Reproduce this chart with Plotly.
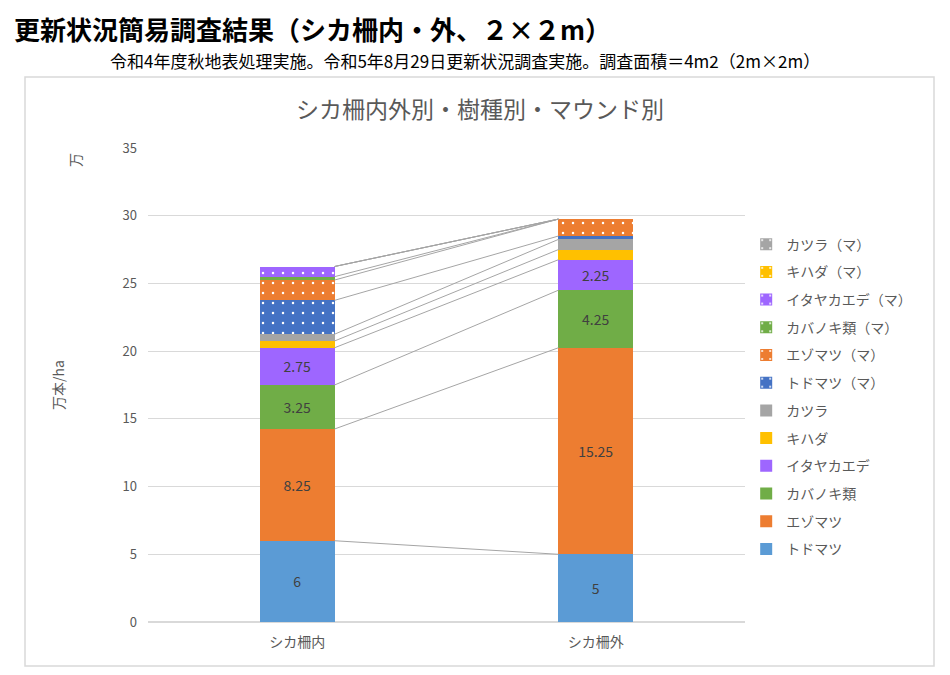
import plotly.graph_objects as go

categories = ["シカ柵内", "シカ柵外"]
series_names = ["トドマツ", "エゾマツ", "カバノキ類", "イタヤカエデ", "キハダ", "カツラ",
                "トドマツ（マ）", "エゾマツ（マ）", "カバノキ類（マ）", "イタヤカエデ（マ）", "キハダ（マ）", "カツラ（マ）"]
todomatsu = [6, 5]
ezomatsu = [8.25, 15.25]
kabanoki = [3.25, 4.25]
itaya = [2.75, 2.25]
kihada = [0.5, 0.75]
katsura = [0.5, 0.75]
todomatsu_m = [2.5, 0.25]
ezomatsu_m = [1.5, 1.25]
kabanoki_m = [0.25, 0]
itaya_m = [0.75, 0]
kihada_m = [0, 0]
katsura_m = [0, 0]
series_values = [todomatsu, ezomatsu, kabanoki, itaya, kihada, katsura,
                 todomatsu_m, ezomatsu_m, kabanoki_m, itaya_m, kihada_m, katsura_m]
colors = ["#5B9BD5", "#ED7D31", "#70AD47", "#9E66FF", "#FFC000", "#A5A5A5",
          "#4472C4", "#ED7D31", "#70AD47", "#9E66FF", "#FFC000", "#A5A5A5"]
patterned = [False] * 6 + [True] * 6
labeled = [True, True, True, True] + [False] * 8
y_ticks = [0, 5, 10, 15, 20, 25, 30, 35]

FONT = "Noto Sans CJK JP"
xpos = [0, 1]
bar_w = 0.25

fig = go.Figure()

# series lines (connect stacked tops)
cum = [0, 0]
for vals in series_values:
    cum = [cum[0] + vals[0], cum[1] + vals[1]]
    fig.add_trace(go.Scatter(x=[xpos[0] + bar_w / 2, xpos[1] - bar_w / 2], y=cum,
                             mode="lines", line=dict(color="#A5A5A5", width=1),
                             showlegend=False, hoverinfo="skip"))

n = len(series_names)
for i, (name, vals) in enumerate(zip(series_names, series_values)):
    marker = dict(color=colors[i], line=dict(width=0))
    if patterned[i]:
        marker["pattern"] = dict(shape=".", fgcolor="white", bgcolor=colors[i],
                                 size=10, solidity=0.05, fillmode="replace")
    fig.add_trace(go.Bar(
        x=xpos, y=vals, name=name, width=bar_w, marker=marker,
        text=[str(v) for v in vals] if labeled[i] else None,
        textposition="inside" if labeled[i] else "none",
        insidetextanchor="middle",
        textfont=dict(family=FONT, size=14, color="#404040"),
        legendgroup=name, legendrank=100 + (n - i),
    ))

fig.update_layout(
    width=942, height=667,
    barmode="stack",
    plot_bgcolor="white", paper_bgcolor="white",
    margin=dict(l=140, r=205, t=140, b=53),
    font=dict(family=FONT, color="#595959"),
    xaxis=dict(range=[-0.5, 1.5], tickvals=xpos, ticktext=categories,
               showgrid=False, zeroline=False, showline=False, ticks="",
               ticklabelstandoff=10,
               tickfont=dict(size=14, color="#595959", family=FONT)),
    yaxis=dict(range=[0, 35], tickvals=y_ticks, showgrid=True, gridcolor="#D9D9D9",
               gridwidth=1, zeroline=True, zerolinecolor="#D9D9D9", showline=False,
               ticks="", tickfont=dict(size=13, color="#595959", family=FONT),
               ticklabelstandoff=10,
               title=dict(text="万本/ha", font=dict(size=14, color="#595959", family=FONT),
                          standoff=54)),
    legend=dict(x=1.002, y=0.83, xanchor="left", yanchor="top",
                traceorder="grouped", tracegroupgap=6.5,
                font=dict(size=14, color="#595959", family=FONT),
                itemwidth=30, bgcolor="rgba(0,0,0,0)"),
    showlegend=True,
    shapes=[dict(type="rect", xref="paper", yref="paper",
                 x0=(25 - 148) / 597, x1=(934 - 148) / 597,
                 y0=(622 - 666) / 474, y1=(622 - 77) / 474,
                 line=dict(color="#D9D9D9", width=1.5), fillcolor="rgba(0,0,0,0)",
                 layer="below")],
    annotations=[
        dict(text="<b>更新状況簡易調査結果（シカ柵内・外、２×２m）</b>", xref="paper", yref="paper",
             x=(12 - 148) / 597, y=(622 - 8) / 474, xanchor="left", yanchor="top",
             showarrow=False, font=dict(size=26, color="black", family=FONT)),
        dict(text="令和4年度秋地表処理実施。令和5年8月29日更新状況調査実施。調査面積＝4m2（2m×2m）",
             xref="paper", yref="paper", x=(465 - 148) / 597, y=(622 - 60) / 474,
             xanchor="center", yanchor="middle", showarrow=False,
             font=dict(size=17, color="black", family=FONT)),
        dict(text="シカ柵内外別・樹種別・マウンド別", xref="paper", yref="paper",
             x=(480 - 148) / 597, y=(622 - 108) / 474, xanchor="center", yanchor="middle",
             showarrow=False, font=dict(size=23, color="#595959", family=FONT)),
        dict(text="万", xref="paper", yref="paper", x=(75 - 148) / 597, y=(622 - 160) / 474,
             xanchor="center", yanchor="middle", showarrow=False, textangle=-90,
             font=dict(size=14, color="#595959", family=FONT)),
    ],
)

fig.write_html("out.html")
